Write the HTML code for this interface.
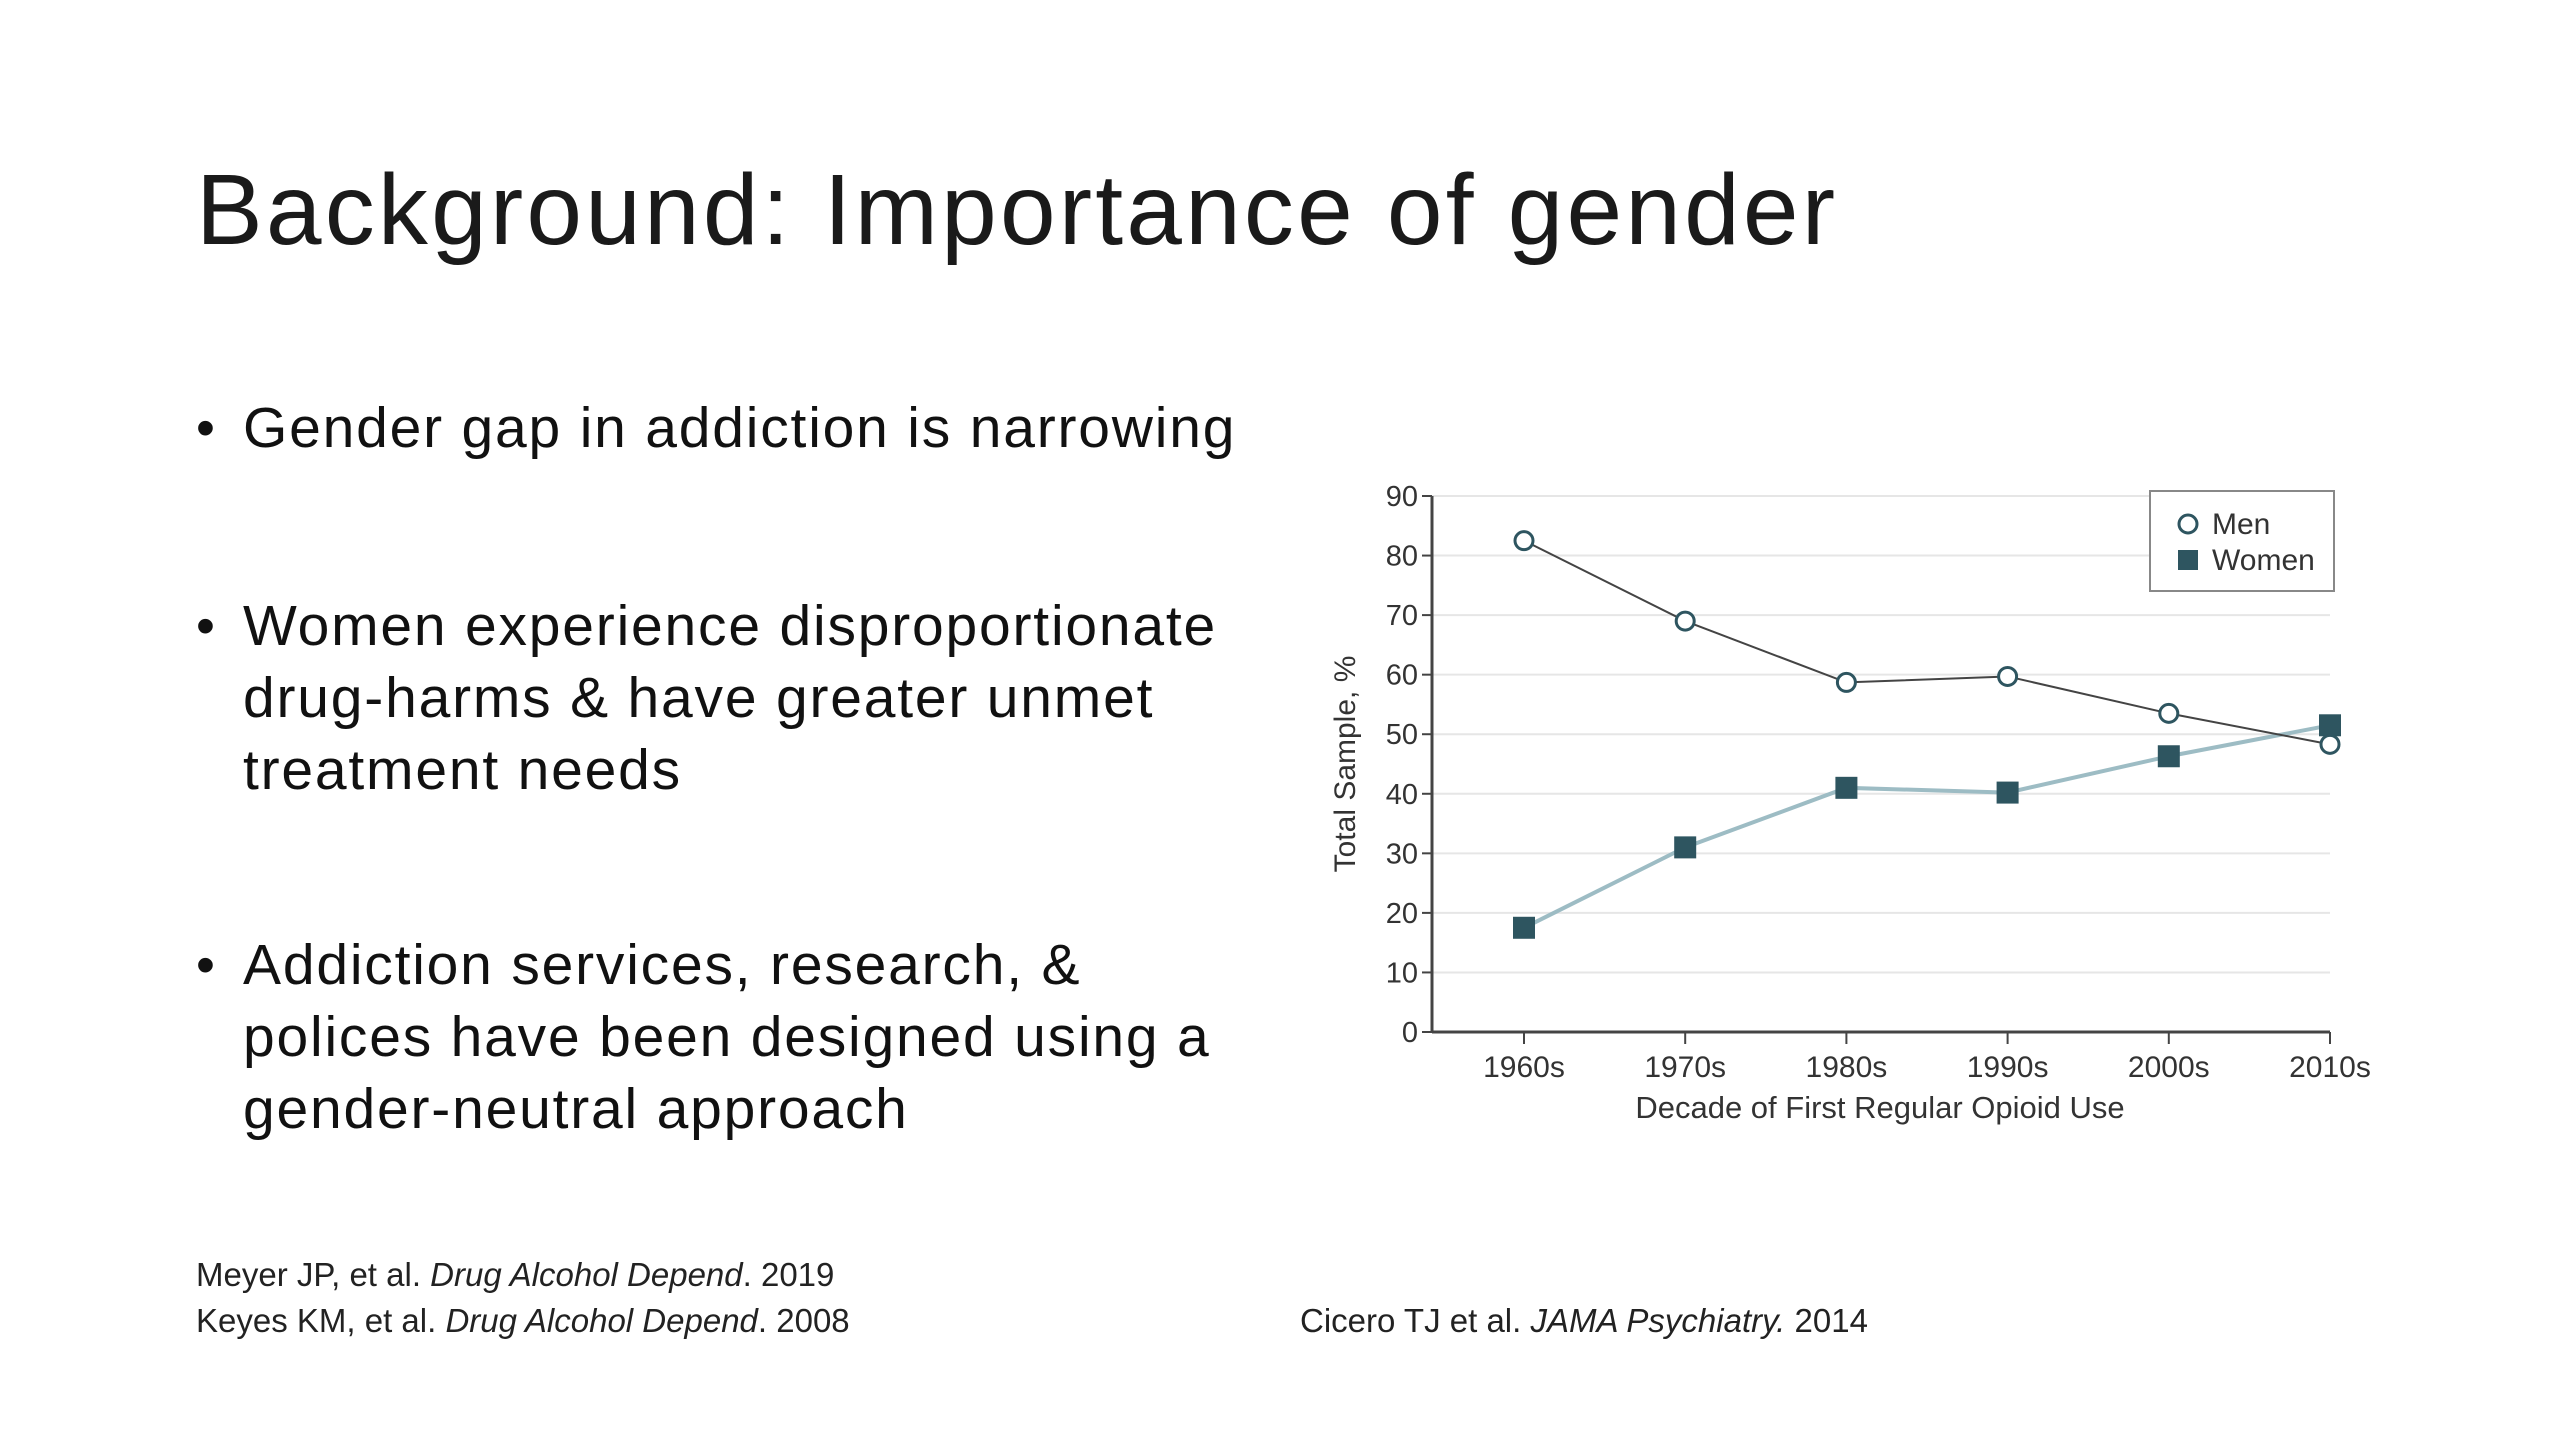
<!DOCTYPE html>
<html><head><meta charset="utf-8">
<style>
body{margin:0;width:2560px;height:1440px;background:#fff;overflow:hidden;position:relative;font-family:"Liberation Sans",sans-serif;color:#111}
.t{position:absolute;white-space:nowrap}
#title{left:196px;top:150px;font-size:100px;letter-spacing:3.2px;line-height:120px;font-weight:normal;color:#1a1a1a}
.b{position:absolute;left:243px;font-size:57px;letter-spacing:1.8px;line-height:72px;color:#111}
.dot{position:absolute;left:196px;font-size:54px;line-height:72px}
.ref{position:absolute;font-size:33px;line-height:46px;color:#222}
</style></head><body>
<div id="title" class="t">Background: Importance of gender</div>
<div class="dot" style="top:392px">•</div>
<div class="b" style="top:392px">Gender gap in addiction is narrowing</div>
<div class="dot" style="top:590px">•</div>
<div class="b" style="top:590px">Women experience disproportionate<br>drug-harms &amp; have greater unmet<br>treatment needs</div>
<div class="dot" style="top:929px">•</div>
<div class="b" style="top:929px">Addiction services, research, &amp;<br>polices have been designed using a<br>gender-neutral approach</div>
<div class="ref" style="left:196px;top:1252px">Meyer JP, et al. <i>Drug Alcohol Depend</i>. 2019<br>Keyes KM, et al. <i>Drug Alcohol Depend</i>. 2008</div>
<div class="ref" style="left:1300px;top:1298px">Cicero TJ et al. <i>JAMA Psychiatry.</i> 2014</div>
<svg id="chart" width="2560" height="1440" style="position:absolute;left:0;top:0"></svg>
<script>
const categories=["1960s","1970s","1980s","1990s","2000s","2010s"];
const men=[82.5,69,58.7,59.7,53.5,48.3];
const women=[17.5,31,41,40.2,46.3,51.5];
const yTicks=[0,10,20,30,40,50,60,70,80,90];
const NS="http://www.w3.org/2000/svg";
const svg=document.getElementById('chart');
const X0=1432,Y0=1032,YT=496,C0=1524,C1=2330;
const fx=i=>C0+(C1-C0)*i/(categories.length-1);
const fy=v=>Y0-(Y0-YT)*v/90;
const F='"Liberation Sans Narrow","Liberation Sans",sans-serif';
function mk(t,a){const e=document.createElementNS(NS,t);for(const k in a)e.setAttribute(k,a[k]);svg.appendChild(e);return e;}
yTicks.forEach(v=>{
  if(v>0){const g=mk('line',{x1:X0,x2:C1,y1:fy(v),y2:fy(v),stroke:'#e6e6e6','stroke-width':2});
  
  }
  const tk=mk('line',{x1:X0-10,x2:X0,y1:fy(v),y2:fy(v),stroke:'#444','stroke-width':2});
  
  
  const t=mk('text',{x:X0-14,y:fy(v)+10,'text-anchor':'end','font-size':29,'font-family':F,fill:'#333'});
  t.textContent=v;
  
  
});
const ya=mk('line',{x1:X0,x2:X0,y1:YT,y2:Y0,stroke:'#444','stroke-width':3});


const xa=mk('line',{x1:X0,x2:C1,y1:Y0,y2:Y0,stroke:'#444','stroke-width':3});


categories.forEach((c,i)=>{
  const tk=mk('line',{x1:fx(i),x2:fx(i),y1:Y0,y2:Y0+12,stroke:'#444','stroke-width':2});
  
  
  const t=mk('text',{x:fx(i),y:Y0+45,'text-anchor':'middle','font-size':30,'font-family':F,fill:'#333'});
  t.textContent=c;
  
  
});
const xt=mk('text',{x:1880,y:1118,'text-anchor':'middle','font-size':31,'font-family':F,fill:'#333'});
xt.textContent='Decade of First Regular Opioid Use';


const yt=mk('text',{x:0,y:0,'text-anchor':'middle','font-size':30,'font-family':F,fill:'#333',transform:'translate(1355,764) rotate(-90)'});
yt.textContent='Total Sample, %';


const wl=mk('polyline',{points:women.map((v,i)=>fx(i)+','+fy(v)).join(' '),fill:'none',stroke:'#9dbcc4','stroke-width':4});


const ml=mk('polyline',{points:men.map((v,i)=>fx(i)+','+fy(v)).join(' '),fill:'none',stroke:'#444','stroke-width':2});


women.forEach((v,i)=>{const r=mk('rect',{x:fx(i)-11,y:fy(v)-11,width:22,height:22,fill:'#2e5560'});
  
  });
men.forEach((v,i)=>{const c=mk('circle',{cx:fx(i),cy:fy(v),r:9,fill:'#fff',stroke:'#2e5560','stroke-width':3});
  
  });
const lb=mk('rect',{x:2150,y:491,width:184,height:100,fill:'#fff',stroke:'#888','stroke-width':2});


const lc=mk('circle',{cx:2188,cy:524,r:9,fill:'#fff',stroke:'#2e5560','stroke-width':3});


const lr=mk('rect',{x:2178,y:550,width:20,height:20,fill:'#2e5560'});


const t1=mk('text',{x:2212,y:534,'font-size':30,'font-family':F,fill:'#333'});t1.textContent='Men';


const t2=mk('text',{x:2212,y:570,'font-size':30,'font-family':F,fill:'#333'});t2.textContent='Women';


</script>
</body></html>
